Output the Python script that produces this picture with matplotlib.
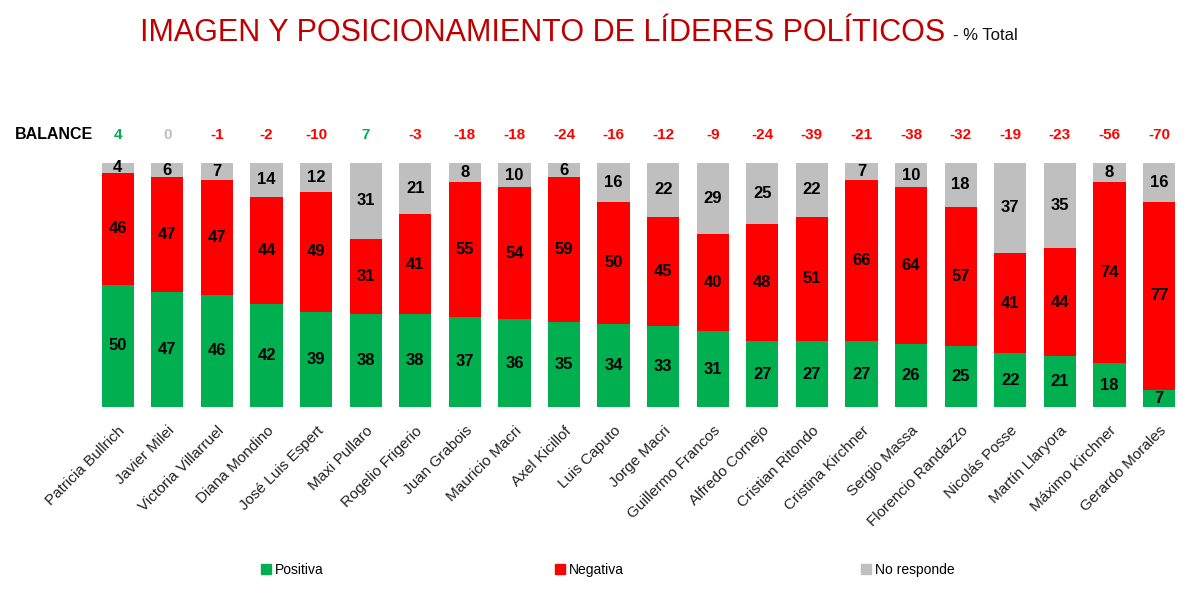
import numpy as np
import matplotlib
matplotlib.use("Agg")
import matplotlib.pyplot as plt
from matplotlib import font_manager
from matplotlib.patches import Patch

names = ["Patricia Bullrich", "Javier Milei", "Victoria Villarruel", "Diana Mondino",
         "José Luis Espert", "Maxi Pullaro", "Rogelio Frigerio", "Juan Grabois",
         "Mauricio Macri", "Axel Kicillof", "Luis Caputo", "Jorge Macri",
         "Guillermo Francos", "Alfredo Cornejo", "Cristian Ritondo", "Cristina Kirchner",
         "Sergio Massa", "Florencio Randazzo", "Nicolás Posse", "Martín Llaryora",
         "Máximo Kirchner", "Gerardo Morales"]
positiva = [50, 47, 46, 42, 39, 38, 38, 37, 36, 35, 34, 33, 31, 27, 27, 27, 26, 25, 22, 21, 18, 7]
negativa = [46, 47, 47, 44, 49, 31, 41, 55, 54, 59, 50, 45, 40, 48, 51, 66, 64, 57, 41, 44, 74, 77]
no_responde = [4, 6, 7, 14, 12, 31, 21, 8, 10, 6, 16, 22, 29, 25, 22, 7, 10, 18, 37, 35, 8, 16]
balance = [4, 0, -1, -2, -10, 7, -3, -18, -18, -24, -16, -12, -9, -24, -39, -21, -38, -32, -19, -23, -56, -70]

GREEN = "#00B050"
RED = "#FF0000"
GRAY = "#BFBFBF"

installed = {f.name for f in font_manager.fontManager.ttflist}
base = "Liberation Sans" if "Liberation Sans" in installed else "DejaVu Sans"
plt.rcParams["font.family"] = [base, "DejaVu Sans"]

fig = plt.figure(figsize=(12, 6.03), dpi=100)
ax = fig.add_axes([0.0775, 0.325, 0.909, 0.405])

x = np.arange(len(names))
w = 0.65
pos = np.array(positiva)
neg = np.array(negativa)
nr = np.array(no_responde)

ax.bar(x, pos, w, color=GREEN)
ax.bar(x, neg, w, bottom=pos, color=RED)
ax.bar(x, nr, w, bottom=pos + neg, color=GRAY)

for i in x:
    ax.text(i, pos[i] / 2, str(pos[i]), ha="center", va="center", fontsize=12, fontweight="bold")
    ax.text(i, pos[i] + neg[i] / 2, str(neg[i]), ha="center", va="center", fontsize=12, fontweight="bold")
    ax.text(i, pos[i] + neg[i] + nr[i] / 2, str(nr[i]), ha="center", va="center", fontsize=12, fontweight="bold")
    b = balance[i]
    c = GREEN if b > 0 else (GRAY if b == 0 else RED)
    ax.text(i, 111.5, str(b), ha="center", va="center", fontsize=11, fontweight="bold", color=c)

ax.text(-0.5, 111.5, "BALANCE", ha="right", va="center", fontsize=11.5, fontweight="bold",
        clip_on=False)

ax.set_xlim(-0.5, len(names) - 0.5)
ax.set_ylim(0, 100)
ax.set_xticks(x)
ax.set_xticklabels(names, rotation=45, ha="right", rotation_mode="anchor", fontsize=11, color="#222222")
ax.tick_params(axis="x", length=0, pad=12)
ax.set_yticks([])
for s in ax.spines.values():
    s.set_visible(False)

# title + subtitle right after it
t = fig.text(0.1165, 0.945, "IMAGEN Y POSICIONAMIENTO DE LÍDERES POLÍTICOS", color="#C00000",
             fontsize=22, ha="left", va="center")
ax.annotate("- % Total", xy=(1, 0.5), xycoords=t, xytext=(6, -2), textcoords="offset points",
            ha="left", va="center", fontsize=12, color="#111111", annotation_clip=False)

handles = [Patch(color=GREEN), Patch(color=RED), Patch(color=GRAY)]
labels = ["Positiva", "Negativa", "No responde"]
for h, l, xp in zip(handles, labels, [0.213, 0.458, 0.713]):
    fig.legend([h], [l], loc="center left", bbox_to_anchor=(xp, 0.055), frameon=False,
               fontsize=10, handlelength=0.7, handleheight=0.7, handletextpad=0.3,
               borderaxespad=0)

fig.savefig("out.png", dpi=100)
